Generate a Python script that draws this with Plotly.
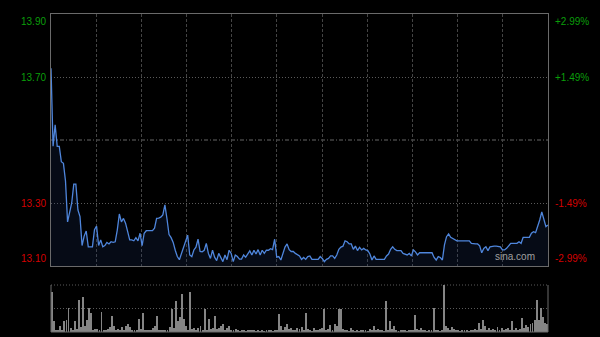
import plotly.graph_objects as go

# ---- data ----
minutes = list(range(241))
prices = [
    13.728, 13.480, 13.548, 13.480, 13.480, 13.431, 13.426, 13.370, 13.240, 13.270,
    13.300, 13.360, 13.360, 13.278, 13.257, 13.165, 13.195, 13.211, 13.161, 13.161,
    13.161, 13.215, 13.227, 13.165, 13.183, 13.161, 13.165, 13.175, 13.170, 13.177,
    13.175, 13.177, 13.214, 13.265, 13.240, 13.251, 13.236, 13.210, 13.183, 13.183,
    13.180, 13.190, 13.180, 13.204, 13.165, 13.204, 13.212, 13.212, 13.212, 13.212,
    13.220, 13.251, 13.252, 13.255, 13.262, 13.294, 13.250, 13.200, 13.190, 13.175,
    13.150, 13.130, 13.120, 13.140, 13.161, 13.175, 13.198, 13.135, 13.130, 13.151,
    13.160, 13.185, 13.146, 13.145, 13.150, 13.172, 13.140, 13.124, 13.150, 13.128,
    13.117, 13.140, 13.125, 13.114, 13.135, 13.120, 13.150, 13.140, 13.114, 13.135,
    13.130, 13.122, 13.122, 13.135, 13.128, 13.140, 13.148, 13.135, 13.150, 13.138,
    13.152, 13.135, 13.150, 13.140, 13.150, 13.150, 13.155, 13.152, 13.185, 13.128,
    13.130, 13.119, 13.140, 13.160, 13.170, 13.152, 13.146, 13.146, 13.140, 13.135,
    13.132, 13.121, 13.127, 13.121, 13.130, 13.132, 13.121, 13.121, 13.121, 13.121,
    13.130, 13.124, 13.114, 13.121, 13.124, 13.132, 13.132, 13.124, 13.135, 13.153,
    13.160, 13.163, 13.180, 13.177, 13.170, 13.170, 13.153, 13.163, 13.149, 13.159,
    13.151, 13.156, 13.151, 13.149, 13.138, 13.119, 13.132, 13.121, 13.121, 13.121,
    13.121, 13.121, 13.132, 13.138, 13.153, 13.161, 13.153, 13.149, 13.149, 13.149,
    13.140, 13.138, 13.135, 13.140, 13.132, 13.151, 13.145, 13.135, 13.142, 13.142,
    13.142, 13.142, 13.142, 13.142, 13.142, 13.127, 13.119, 13.130, 13.127, 13.119,
    13.167, 13.193, 13.202, 13.191, 13.188, 13.183, 13.180, 13.180, 13.180, 13.180,
    13.180, 13.180, 13.180, 13.172, 13.170, 13.170, 13.170, 13.164, 13.142, 13.156,
    13.161, 13.149, 13.161, 13.163, 13.163, 13.163, 13.163, 13.161, 13.151, 13.151,
    13.156, 13.163, 13.172, 13.172, 13.172, 13.172, 13.177, 13.172, 13.191, 13.191,
    13.191, 13.191, 13.204, 13.209, 13.206, 13.225, 13.246, 13.272, 13.246, 13.225,
    13.230,
]
volumes = [
    86, 23, 5, 3, 12, 4, 23, 26, 51, 8,
    5, 23, 6, 68, 10, 75, 12, 26, 51, 40,
    4, 6, 6, 3, 42, 5, 3, 6, 10, 35,
    12, 4, 6, 3, 10, 4, 13, 18, 10, 4,
    3, 5, 27, 6, 40, 3, 3, 5, 3, 8,
    12, 35, 4, 3, 3, 5, 3, 10, 49, 8,
    65, 24, 32, 81, 28, 12, 3, 86, 6, 8,
    5, 8, 12, 4, 49, 5, 27, 6, 8, 35,
    6, 8, 12, 18, 4, 8, 12, 5, 3, 6,
    3, 2, 5, 3, 2, 4, 3, 5, 3, 2,
    4, 2, 3, 2, 5, 3, 4, 2, 3, 5,
    39, 12, 4, 10, 16, 6, 8, 3, 5, 8,
    6, 10, 4, 40, 6, 3, 2, 8, 4, 3,
    6, 8, 49, 5, 6, 15, 4, 18, 12, 49,
    49, 6, 3, 4, 2, 8, 3, 2, 4, 2,
    3, 5, 3, 2, 6, 3, 12, 4, 6, 5,
    3, 2, 67, 4, 23, 6, 12, 3, 2, 4,
    3, 5, 2, 3, 4, 5, 37, 6, 3, 8,
    4, 3, 2, 5, 3, 51, 4, 3, 2, 5,
    100, 12, 8, 4, 10, 6, 3, 4, 2, 3,
    5, 3, 2, 4, 3, 6, 5, 20, 6, 26,
    12, 4, 8, 5, 6, 3, 10, 5, 8, 4,
    6, 8, 4, 23, 5, 8, 4, 6, 30, 8,
    15, 10, 18, 20, 25, 68, 25, 51, 32, 20,
    18,
]
left_ticks = [13.90, 13.70, 13.30, 13.10]
left_labels = ["13.90", "13.70", "13.30", "13.10"]
right_labels = ["+2.99%", "+1.49%", "-1.49%", "-2.99%"]
tick_colors = ["#0a9e0a", "#0a9e0a", "#d40000", "#d40000"]
prev_close = 13.50

# ---- layout constants ----
W, H = 600, 337
x0, x1 = 51 / W, 548 / W
main_dom = [(H - 266) / H, (H - 14) / H]
vol_dom = [(H - 332) / H, (H - 285) / H]
grid_col = "#444444"
frame_col = "#6a6a6a"

fig = go.Figure()

fig.add_trace(go.Scatter(
    x=minutes, y=prices, mode="lines",
    line=dict(color="#4f86dc", width=1.3),
    fill="tozeroy", fillcolor="rgba(30,55,110,0.20)",
    xaxis="x", yaxis="y", hoverinfo="skip",
))

fig.add_trace(go.Bar(
    x=minutes, y=volumes, width=0.45,
    marker=dict(color="#858585", line=dict(width=0)),
    xaxis="x2", yaxis="y2", hoverinfo="skip",
))

vgrid = [240 * k / 11 for k in range(1, 11)]

fig.update_layout(
    width=W, height=H,
    margin=dict(l=0, r=0, t=0, b=0),
    paper_bgcolor="black", plot_bgcolor="black",
    showlegend=False,
    font=dict(family="Liberation Sans, Arial", size=10),
    bargap=0,
    xaxis=dict(
        domain=[x0, x1], range=[0, 240], anchor="y",
        tickvals=vgrid, showticklabels=False, ticks="",
        showgrid=True, gridcolor=grid_col, griddash="3px,2px", gridwidth=1,
        zeroline=False, showline=True, linecolor=frame_col, linewidth=1, mirror=True,
    ),
    yaxis=dict(
        domain=main_dom, range=[13.10, 13.90], anchor="x",
        tickvals=[13.30, 13.70], showticklabels=False, ticks="",
        showgrid=True, gridcolor="#5a5a5a", griddash="1px,2px", gridwidth=1,
        zeroline=False, showline=True, linecolor=frame_col, linewidth=1, mirror=True,
    ),
    xaxis2=dict(
        domain=[x0, x1], range=[-0.5, 240.5], anchor="y2",
        showticklabels=False, ticks="", showgrid=False, zeroline=False,
        showline=False,
    ),
    yaxis2=dict(
        domain=vol_dom, range=[0, 100], anchor="x2",
        tickvals=[50], showticklabels=False, ticks="",
        showgrid=True, gridcolor="#5a5a5a", griddash="1px,2px", gridwidth=1,
        zeroline=False, showline=False,
    ),
)

# previous-close line (dash-dot)
fig.add_shape(type="line", xref="x domain", yref="y", x0=0, x1=1,
              y0=prev_close, y1=prev_close,
              line=dict(color="#666666", width=1, dash="4px,2px,1px,2px"), layer="below")

# volume panel top dotted line
fig.add_shape(type="line", xref="x2 domain", yref="y2 domain", x0=0, x1=1, y0=1, y1=1,
              line=dict(color="#5a5a5a", width=1, dash="1px,2px"), layer="below")

# volume panel frame: left, right, bottom solid
for (ax0, ay0, ax1, ay1) in [(0, 0, 1, 0), (0, 0, 0, 1), (1, 0, 1, 1)]:
    fig.add_shape(type="line", xref="x2 domain", yref="y2 domain",
                  x0=ax0, y0=ay0, x1=ax1, y1=ay1,
                  line=dict(color=frame_col, width=1))

# tick labels
for i, v in enumerate(left_ticks):
    if i == 0:
        ya = "top"
    elif i == len(left_ticks) - 1:
        ya = "bottom"
    else:
        ya = "middle"
    fig.add_annotation(x=x0, xref="paper", xshift=-3, y=v, yref="y",
                       text=left_labels[i], showarrow=False,
                       xanchor="right", yanchor=ya,
                       font=dict(color=tick_colors[i], size=10))
    fig.add_annotation(x=x1, xref="paper", xshift=5, y=v, yref="y",
                       text=right_labels[i], showarrow=False,
                       xanchor="left", yanchor=ya,
                       font=dict(color=tick_colors[i], size=10))

fig.add_annotation(x=537 / W, xref="paper", y=13.10, yref="y", yshift=2,
                   text="sina.com", showarrow=False, xanchor="right", yanchor="bottom",
                   font=dict(color="#a0a0a0", size=10))

fig.write_html("out.html")
